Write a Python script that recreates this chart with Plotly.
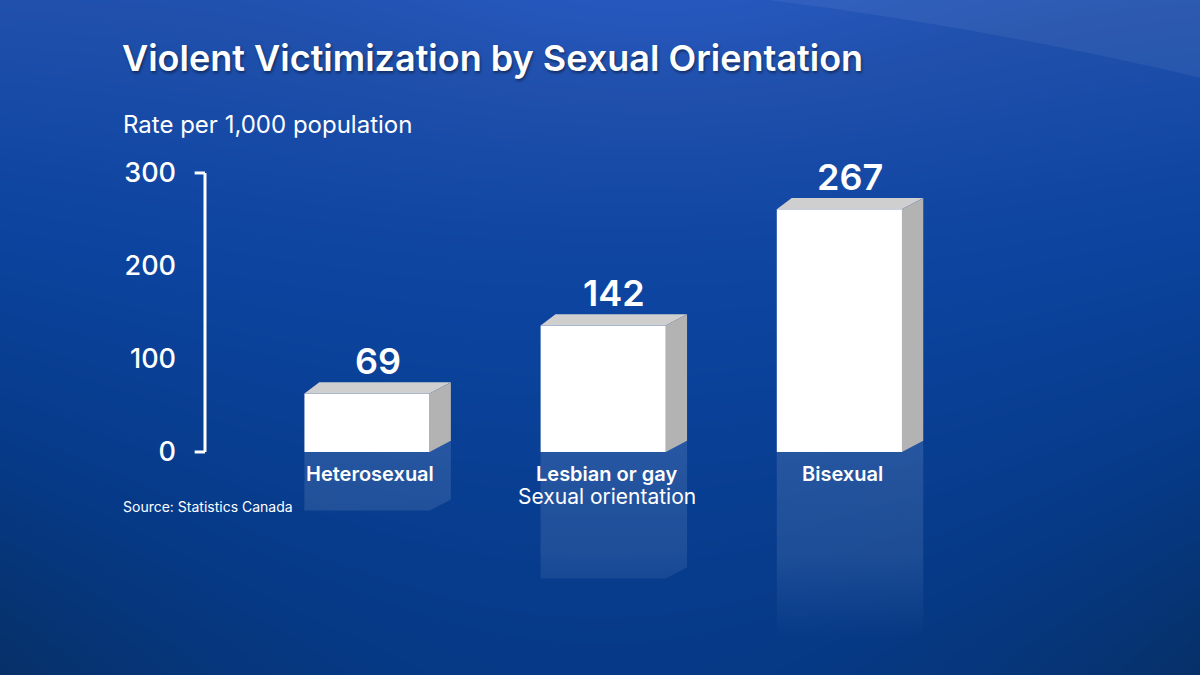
import numpy as np
import plotly.graph_objects as go

categories = ["Heterosexual", "Lesbian or gay", "Bisexual"]
rates = [69, 142, 267]
tick_vals = [0, 100, 200, 300]
tick_text = ["0", "100", "200", "300"]

FONT = "Inter"
W, H = 1200, 675

# geometry of the pseudo-3D boxes (in axis units)
bar_w = 0.53
dx = 0.09    # depth offset along x
dy = 12.0    # depth offset along y
# the middle of the top face sits on the value
front_tops = [v - dy / 2 for v in rates]

fig = go.Figure()

# ---- background gradient on a full-page subplot ----
gx = np.linspace(0, 1, 60)
gy = np.linspace(0, 1, 40)
X, Y = np.meshgrid(gx, gy)
Z = (0.3 + 0.5 * Y ** 1.2
     + 0.12 * np.exp(-((X - 0.55) ** 2 / 0.08 + (Y - 1) ** 2 / 0.05))
     - 0.2 * (2 * X - 1) ** 2 * (1 - Y))
fig.add_trace(go.Heatmap(
    x=gx, y=gy, z=Z, zsmooth="best", showscale=False, hoverinfo="skip",
    zmin=0, zmax=1,
    colorscale=[[0, "#03285a"], [0.1, "#063068"], [0.3, "#063a88"],
                [0.55, "#0c44a0"], [0.8, "#2050ac"], [1, "#2a5cc8"]],
    xaxis="x", yaxis="y",
))

xs = list(range(len(categories)))

# ---- reflections ----
refl_grad = dict(type="vertical", start=-200, stop=0,
                 colorscale=[[0, "rgba(255,255,255,0)"],
                             [0.45, "rgba(255,255,255,0.09)"],
                             [1, "rgba(255,255,255,0.12)"]])
for i, v in zip(xs, front_tops):
    l, r = i - bar_w / 2, i + bar_w / 2
    fig.add_trace(go.Scatter(
        x=[l, r, r, l, l], y=[0, 0, -v, -v, 0], mode="none", fill="toself",
        fillgradient=refl_grad, hoverinfo="skip", showlegend=False,
        xaxis="x2", yaxis="y2"))
    fig.add_trace(go.Scatter(
        x=[r, r + dx, r + dx, r, r], y=[0, dy, dy - v, -v, 0], mode="none",
        fill="toself", fillgradient=refl_grad, hoverinfo="skip",
        showlegend=False, xaxis="x2", yaxis="y2"))

# ---- front faces ----
fig.add_trace(go.Bar(
    x=xs, y=front_tops, width=bar_w,
    marker=dict(color="#ffffff", line=dict(width=0)),
    hoverinfo="skip", showlegend=False, xaxis="x2", yaxis="y2"))

# ---- top and side faces ----
for i, v in zip(xs, front_tops):
    l, r = i - bar_w / 2, i + bar_w / 2
    fig.add_trace(go.Scatter(
        x=[l, l + dx * 0.7, r + dx, r, l], y=[v, v + dy, v + dy, v, v],
        mode="none", fill="toself", fillcolor="#cfcfcf",
        hoverinfo="skip", showlegend=False, xaxis="x2", yaxis="y2"))
    fig.add_trace(go.Scatter(
        x=[r, r + dx, r + dx, r, r], y=[v, v + dy, dy, 0, v],
        mode="none", fill="toself", fillcolor="#b3b3b3",
        hoverinfo="skip", showlegend=False, xaxis="x2", yaxis="y2"))

annotations = []
# value labels
for i, v, t in zip(xs, front_tops, rates):
    annotations.append(dict(
        x=i + dx / 2, y=v + dy, xref="x2", yref="y2", text=str(t),
        showarrow=False, yanchor="bottom", yshift=-3,
        font=dict(family=FONT, size=36, color="white", weight=600)))
# category labels
for i, c in zip(xs, categories):
    annotations.append(dict(
        x=i, y=0, xref="x2", yref="y2", text=c, showarrow=False,
        yanchor="middle", yshift=-22, xshift=3,
        font=dict(family=FONT, size=20, color="white", weight=600)))
annotations.append(dict(
    x=1, y=0, xref="x2", yref="y2", text="Sexual orientation", showarrow=False,
    yanchor="middle", yshift=-45, xshift=4,
    font=dict(family=FONT, size=21, color="white")))

annotations += [
    dict(x=120 / W, y=1 - 58 / H, xref="paper", yref="paper",
         text="Violent Victimization by Sexual Orientation", showarrow=False,
         xanchor="left", yanchor="middle",
         font=dict(family=FONT, size=36, color="white", weight=600,
                   shadow="1px 2px 3px rgba(0,0,0,0.45)")),
    dict(x=121 / W, y=1 - 125 / H, xref="paper", yref="paper",
         text="Rate per 1,000 population", showarrow=False,
         xanchor="left", yanchor="middle",
         font=dict(family=FONT, size=24, color="white")),
    dict(x=121 / W, y=1 - 506 / H, xref="paper", yref="paper",
         text="Source: Statistics Canada", showarrow=False,
         xanchor="left", yanchor="middle",
         font=dict(family=FONT, size=14, color="white")),
]

# axis bracket + soft light arc in the top right corner
shapes = [
    dict(type="line", xref="x2 domain", yref="y2", x0=0, x1=0, y0=0, y1=300,
         line=dict(color="white", width=3), layer="above"),
    dict(type="line", xref="x2 domain", yref="y2", x0=-0.013, x1=0, y0=300, y1=300,
         line=dict(color="white", width=3), layer="above"),
    dict(type="line", xref="x2 domain", yref="y2", x0=-0.013, x1=0, y0=0, y1=0,
         line=dict(color="white", width=3), layer="above"),
    dict(type="path", xref="paper", yref="paper",
         path="M 0.64,1 Q 0.82,0.96 1,0.885 L 1,1 Z",
         fillcolor="rgba(255,255,255,0.06)", line=dict(width=0), layer="above"),
]

fig.update_layout(
    width=W, height=H,
    margin=dict(l=0, r=0, t=0, b=0),
    paper_bgcolor="#0b3f94",
    plot_bgcolor="rgba(0,0,0,0)",
    showlegend=False,
    xaxis=dict(domain=[0, 1], range=[0, 1], visible=False, fixedrange=True),
    yaxis=dict(domain=[0, 1], range=[0, 1], visible=False, fixedrange=True),
    xaxis2=dict(domain=[205 / W, 1000 / W], range=[-0.686, 2.68], visible=False,
                anchor="y2", fixedrange=True),
    yaxis2=dict(domain=[0, 1 - 150 / H], range=[-239.8, 324.7], anchor="x2",
                tickvals=tick_vals, ticktext=tick_text, ticks="",
                ticklabelstandoff=28, showgrid=False, zeroline=False,
                showline=False, fixedrange=True,
                tickfont=dict(family=FONT, size=27, color="white", weight=500)),
    annotations=annotations,
    shapes=shapes,
)

fig.write_html("out.html", config={"displayModeBar": False},
               post_script="document.body.style.margin = '0';")
